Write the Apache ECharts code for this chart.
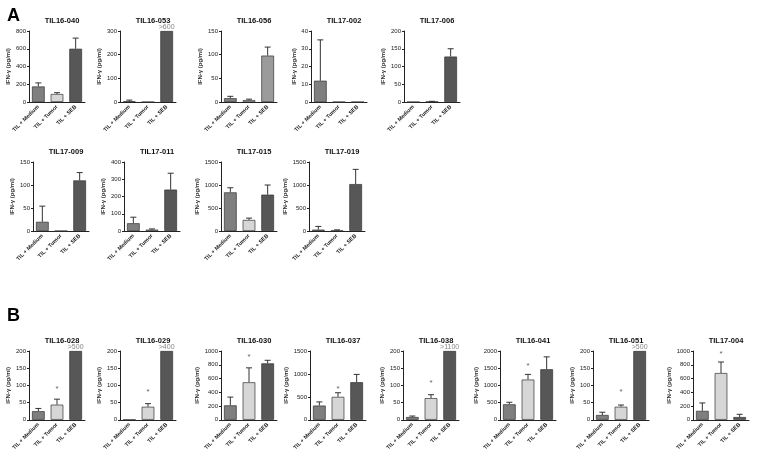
<!DOCTYPE html>
<html><head><meta charset="utf-8">
<script src="https://cdn.jsdelivr.net/npm/echarts@6/dist/echarts.min.js"></script>
<style>html,body{margin:0;padding:0;background:#fff}#c{width:765px;height:453px}</style>
</head><body><div id="c"></div>
<script>
// ---- data ----
const categories = ['TIL + Medium', 'TIL + Tumor', 'TIL + SEB'];
const panelNames = ['TIL16-040','TIL16-053','TIL16-056','TIL17-002','TIL17-006',
  'TIL17-009','TIL17-011','TIL17-015','TIL17-019',
  'TIL16-028','TIL16-029','TIL16-030','TIL16-037','TIL16-038','TIL16-041','TIL16-051','TIL17-004'];
const yMax  = [800,300,150,40,200, 150,400,1500,1500, 200,200,1000,1500,200,2000,200,1000];
const yStep = [200,100,50,10,50, 50,100,500,500, 50,50,200,500,50,500,50,200];
const mediumMean = [175,3,8,12,0, 20,45,840,30, 25,0,210,310,8,450,14,130];
const mediumErr  = [40,5,4,23,0, 34,35,100,70, 8,0,120,80,3,60,8,115];
const tumorMean  = [90,0,4,0,1, 0,8,240,10, 44,38,545,500,63,1170,38,680];
const tumorErr   = [15,0,2,0,1, 0,4,40,15, 16,9,210,90,10,150,5,160];
const sebMean    = [600,300,98,0,128, 110,240,790,1020, 200,200,820,820,200,1470,200,40];
const sebErr     = [120,0,18,0,22, 17,95,210,320, 0,0,45,170,0,360,0,40];
const overLabel  = ['', '>600', '', '', '', '', '', '', '', '>500', '>400', '', '', '>1100', '', '>500', ''];
const starValue  = [null,null,null,null,null, null,null,null,null, 90,82,920,680,108,1580,80,960];

// ---- layout ----
const rowTop = [31, 162, 351], rowH = [71, 69, 71];
const lefts = [29,120,221,311,404, 33,124,221,309, 29,120,221,310,403,500,593,693];
const rows  = [0,0,0,0,0, 1,1,1,1, 2,2,2,2,2,2,2,2];
const W = 56;
const colMed = '#7f7f7f', colTum = '#d6d6d6', colSeb = '#575757';
const FONT = 'Liberation Sans, Arial, sans-serif';

const grid = [], xAxis = [], yAxis = [], series = [], title = [];
title.push({text:'A', left:2, top:2, textStyle:{fontSize:18, fontWeight:'bold', fontFamily:FONT, color:'#000'}});
title.push({text:'B', left:2, top:302, textStyle:{fontSize:18, fontWeight:'bold', fontFamily:FONT, color:'#000'}});

panelNames.forEach((name, i) => {
  const r = rows[i];
  grid.push({left: lefts[i], top: rowTop[r], width: W, height: rowH[r], containLabel:false});
  title.push({text: name, left: lefts[i] + W/2, top: rowTop[r] - 19, textAlign:'center',
    textStyle:{fontSize:7.5, fontWeight:'bold', fontFamily:FONT, color:'#111'}});
  xAxis.push({type:'category', gridIndex:i, data:categories,
    axisLine:{lineStyle:{color:'#222', width:1}},
    axisTick:{alignWithLabel:true, length:2, lineStyle:{color:'#222'}},
    axisLabel:{rotate:45, fontSize:5.5, fontWeight:'bold', color:'#222', fontFamily:FONT, margin:4, interval:0}});
  yAxis.push({type:'value', gridIndex:i, min:0, max:yMax[i], interval:yStep[i],
    name:'IFN-γ (pg/ml)', nameLocation:'middle', nameRotate:90,
    nameGap: String(yMax[i]).length * 3.4 + 7,
    nameTextStyle:{fontSize:6, fontWeight:'bold', color:'#333', fontFamily:FONT},
    splitLine:{show:false},
    axisLine:{show:true, lineStyle:{color:'#222', width:1}},
    axisTick:{show:true, length:2, lineStyle:{color:'#222'}},
    axisLabel:{fontSize:6, color:'#222', margin:3, fontFamily:FONT, formatter: v => String(v)}});
  const seb = (name === 'TIL16-056') ? '#9b9b9b' : colSeb;
  series.push({type:'bar', xAxisIndex:i, yAxisIndex:i, barWidth:'68%',
    itemStyle:{borderColor:'#333', borderWidth:0.7},
    data:[{value:mediumMean[i], itemStyle:{color:colMed}},
          {value:tumorMean[i], itemStyle:{color:colTum}},
          {value:sebMean[i], itemStyle:{color:seb}}],
    silent:true, animation:false});
  const errData = [[0, mediumMean[i], mediumErr[i]], [1, tumorMean[i], tumorErr[i]], [2, sebMean[i], sebErr[i]]]
    .filter(d => d[2] > 0);
  series.push({type:'custom', xAxisIndex:i, yAxisIndex:i, data:errData, animation:false, silent:true,
    renderItem:(params, api) => {
      const b = api.coord([api.value(0), api.value(1)]);
      const t = api.coord([api.value(0), api.value(1) + api.value(2)]);
      const hw = 3;
      return {type:'group', children:[
        {type:'line', shape:{x1:b[0], y1:b[1], x2:t[0], y2:t[1]}, style:{stroke:'#333', lineWidth:1}},
        {type:'line', shape:{x1:t[0]-hw, y1:t[1], x2:t[0]+hw, y2:t[1]}, style:{stroke:'#333', lineWidth:1}}
      ]};
    }});
  if (overLabel[i]) {
    series.push({type:'scatter', xAxisIndex:i, yAxisIndex:i, symbolSize:0, animation:false, silent:true,
      data:[[2, sebMean[i]]],
      label:{show:true, position:'top', distance:0, formatter:overLabel[i], fontSize:7, color:'#666', fontFamily:FONT}});
  }
  if (starValue[i] !== null) {
    series.push({type:'scatter', xAxisIndex:i, yAxisIndex:i, symbolSize:0, animation:false, silent:true,
      data:[[1, starValue[i]]],
      label:{show:true, position:'inside', formatter:'*', fontSize:8, color:'#333', fontFamily:FONT}});
  }
});

const chart = echarts.init(document.getElementById('c'), null, {renderer:'canvas'});
chart.setOption({animation:false, backgroundColor:'#fff', title, grid, xAxis, yAxis, series});
</script></body></html>
